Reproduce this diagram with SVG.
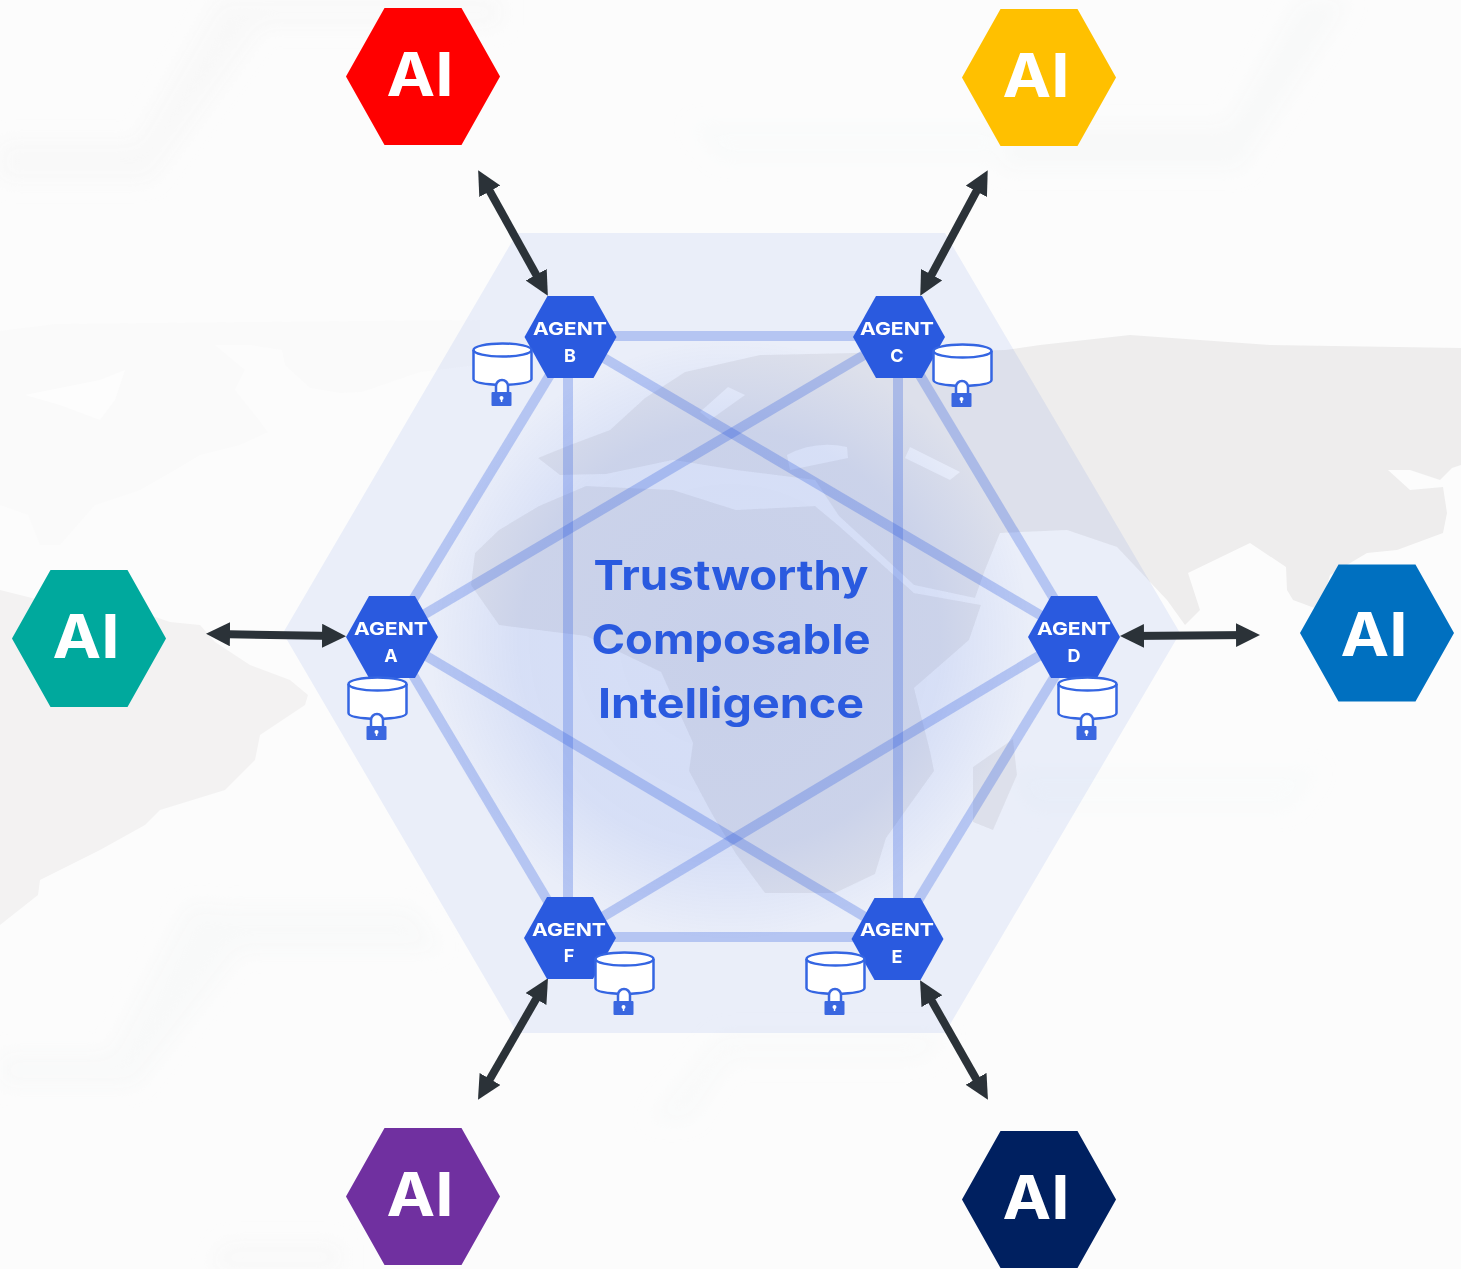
<svg xmlns="http://www.w3.org/2000/svg" width="1461" height="1269" viewBox="0 0 1461 1269">
<style>
.ai{font-family:Inter,"Liberation Sans",sans-serif;font-weight:700;font-size:60px;fill:#fff;text-anchor:middle}
.ag{font-family:Inter,"Liberation Sans",sans-serif;font-weight:700;font-size:18px;fill:#fff;text-anchor:middle}
.ti{font-family:Inter,"Liberation Sans",sans-serif;font-weight:700;font-size:41px;fill:#2a5adf;text-anchor:middle}
.agent{fill:#2a5adf}
.mesh line{stroke:#2a5adf;stroke-width:10;stroke-opacity:.28}
.link line{stroke:#2b3238;stroke-width:8;marker-start:url(#ah);marker-end:url(#ah)}
.cyl{fill:#fff;stroke:#3465e2;stroke-width:2.5}
.lk{fill:#3a67e0}
</style>
<defs>
<marker id="ah" markerUnits="userSpaceOnUse" markerWidth="30" markerHeight="30" refX="14" refY="12" orient="auto-start-reverse"><path d="M0,0L24,12L0,24Z" fill="#2b3238"/></marker>
<radialGradient id="glow" gradientUnits="userSpaceOnUse" cx="730" cy="640" r="300"><stop offset="0" stop-color="#2a5adf" stop-opacity=".12"/><stop offset=".7" stop-color="#2a5adf" stop-opacity=".1"/><stop offset="1" stop-color="#2a5adf" stop-opacity="0"/></radialGradient>
<filter id="bl" x="-10%" y="-10%" width="120%" height="120%"><feGaussianBlur stdDeviation="10"/></filter>
<polygon id="hx" points="-77,0 -38.500,-68.500 38.500,-68.500 77,0 38.500,68.500 -38.500,68.500"/>
<polygon id="ha" points="-46,0 -23,-41 23,-41 46,0 23,41 -23,41"/>
<g id="db">
<path class="cyl" d="M-29.500,-1V28Q-29.500,33 -.5,34Q28.500,33 28.500,28V-1"/>
<ellipse class="cyl" cx="-.5" cy="-1" rx="29" ry="6.500"/>
<path d="M-7,42V35a6,6 0 0 1 12,0V42" fill="#fff" stroke="#3a67e0" stroke-width="2.500"/>
<rect class="lk" x="-11.500" y="41" width="20" height="14" rx="1"/>
<circle cx="-1.500" cy="47" r="2" fill="#fff"/><rect x="-2.200" y="47" width="1.500" height="4" fill="#fff"/>
</g>
</defs>
<g id="background">
<rect width="1461" height="1269" fill="#fcfcfc"/>
<g filter="url(#bl)" fill="#f6f7f7">
<path d="M220,0H500V25H262L150,180H0V143H137Z" opacity=".7"/>
<path d="M1300,0H1350L1240,170H1000L1010,125H1228Z" opacity=".5"/>
<path d="M690,125H1000V160H720Z" opacity=".3"/>
<path d="M227,909H412L440,950H240L135,1085H0V1055H110L190,905Z" opacity=".65"/>
<path d="M720,1035H950L920,1060H730L690,1120H650Z" opacity=".4"/>
<path d="M225,1245H340V1269H210Z" opacity=".7"/>
<path d="M1200,770H1320L1290,810H1030L1010,770Z" opacity=".3"/>
</g>
<g id="map">
<path fill="#fafafa" d="M0,331L55,324L250,322L480,320V365L420,372L362,392L340,393L310,388L285,365L282,350L250,345L215,345L245,370L235,390L255,415L268,432L240,445L200,455L175,470L140,490L95,505L60,545L40,545L28,515L0,505Z"/>
<path fill="#fdfdfd" d="M25,395L100,380L125,370L115,400L100,420L60,405Z"/>
<path fill="#f3f2f2" d="M0,590L40,600L120,605L170,622L200,625L215,642L250,665L290,680L308,695L305,705L260,735L255,760L225,790L160,810L145,825L100,850L40,880L38,895L0,925Z"/>
<path fill="#eeeded" d="M538,458L570,445L610,430L645,398L685,372L760,355L900,352L1005,350L1040,345L1130,335L1270,345L1461,348V465L1452,468L1440,480L1410,470L1388,470L1410,490L1443,487L1447,513L1443,533L1397,550L1367,553L1330,575L1320,610L1293,600L1287,590L1286,567L1250,543L1188,573L1200,610L1185,625L1167,600L1117,547L1067,530L1000,533L985,570L975,598L914,585L839,516L815,480L736,470L673,460L606,474L560,475Z"/>
<path fill="#eeeded" d="M475,553L499,530L539,506L586,486L673,490L736,510L815,506L839,526L914,593L981,605L969,640L914,688L930,751L934,771L886,838L875,874L835,893L765,893L736,854L712,814L689,771L693,743L661,672L586,636L499,625L471,585Z"/>
<path fill="#eeeded" d="M973,767L1013,739L1017,775L993,830L973,822Z"/>
<path fill="#fcfcfc" d="M787,455Q815,440 847,447L848,458L790,470ZM910,447L960,472L950,480L905,458ZM728,387L745,395L710,420L700,412Z"/>
</g>
</g>
<polygon id="big-hexagon" points="283,633 517,233 945,233 1180,633 945,1033 517,1033" fill="#2a5adf" fill-opacity=".085"/>
<polygon id="glow-area" points="283,633 517,233 945,233 1180,633 945,1033 517,1033" fill="url(#glow)"/>
<g id="connectors">
<g class="mesh">
<line x1="570" y1="336" x2="898" y2="336"/>
<line x1="568" y1="337" x2="568" y2="938"/>
<line x1="898" y1="337" x2="898" y2="938"/>
<line x1="569" y1="937" x2="897" y2="937"/>
<line x1="391" y1="636" x2="570" y2="342"/>
<line x1="897" y1="337" x2="1077" y2="637"/>
<line x1="391" y1="638" x2="568" y2="935"/>
<line x1="897" y1="935" x2="1077" y2="640"/>
<line x1="391" y1="634" x2="898" y2="335"/>
<line x1="570" y1="338" x2="1074" y2="635"/>
<line x1="391" y1="635" x2="897" y2="936"/>
<line x1="569" y1="937" x2="1074" y2="635"/>
</g>
<g class="link">
<line x1="483" y1="179" x2="543" y2="287"/>
<line x1="983" y1="179" x2="925" y2="287"/>
<line x1="216" y1="634" x2="336" y2="636"/>
<line x1="1130" y1="636" x2="1250" y2="635"/>
<line x1="543" y1="987" x2="483" y2="1091"/>
<line x1="925" y1="989" x2="983" y2="1091"/>
</g>
</g>
<g id="ai-red"><use href="#hx" x="423" y="76.500" fill="#ff0000"/><text class="ai" x="420" y="96" textLength="67" lengthAdjust="spacingAndGlyphs">AI</text></g>
<g id="ai-yellow"><use href="#hx" x="1039" y="77.500" fill="#ffc000"/><text class="ai" x="1036" y="97" textLength="67" lengthAdjust="spacingAndGlyphs">AI</text></g>
<g id="ai-teal"><use href="#hx" x="89" y="638.500" fill="#00a99d"/><text class="ai" x="86" y="658" textLength="67" lengthAdjust="spacingAndGlyphs">AI</text></g>
<g id="ai-blue"><use href="#hx" x="1377" y="633" fill="#0070c0"/><text class="ai" x="1374" y="656" textLength="67" lengthAdjust="spacingAndGlyphs">AI</text></g>
<g id="ai-purple"><use href="#hx" x="423" y="1196.500" fill="#7030a0"/><text class="ai" x="420" y="1216" textLength="67" lengthAdjust="spacingAndGlyphs">AI</text></g>
<g id="ai-navy"><use href="#hx" x="1039" y="1199.500" fill="#002060"/><text class="ai" x="1036" y="1219" textLength="67" lengthAdjust="spacingAndGlyphs">AI</text></g>
<g id="agent-a"><use href="#ha" class="agent" x="392" y="637"/><use href="#db" x="378" y="685"/><text class="ag" x="391" y="635" textLength="74" lengthAdjust="spacingAndGlyphs">AGENT</text><text class="ag" x="391" y="662">A</text></g>
<g id="agent-b"><use href="#ha" class="agent" x="570.500" y="337"/><use href="#db" x="503" y="351"/><text class="ag" x="570" y="335" textLength="74" lengthAdjust="spacingAndGlyphs">AGENT</text><text class="ag" x="570" y="362">B</text></g>
<g id="agent-c"><use href="#ha" class="agent" x="899" y="337"/><use href="#db" x="963" y="352"/><text class="ag" x="897" y="335" textLength="74" lengthAdjust="spacingAndGlyphs">AGENT</text><text class="ag" x="897" y="362">C</text></g>
<g id="agent-d"><use href="#ha" class="agent" x="1074" y="637"/><use href="#db" x="1088" y="685"/><text class="ag" x="1074" y="635" textLength="74" lengthAdjust="spacingAndGlyphs">AGENT</text><text class="ag" x="1074" y="662">D</text></g>
<g id="agent-e"><use href="#ha" class="agent" x="897.500" y="939"/><use href="#db" x="836" y="960"/><text class="ag" x="897" y="936" textLength="74" lengthAdjust="spacingAndGlyphs">AGENT</text><text class="ag" x="897" y="963">E</text></g>
<g id="agent-f"><use href="#ha" class="agent" x="570" y="938"/><use href="#db" x="625" y="960"/><text class="ag" x="569" y="936" textLength="74" lengthAdjust="spacingAndGlyphs">AGENT</text><text class="ag" x="569" y="962">F</text></g>
<g id="title">
<text class="ti" x="731" y="590" textLength="275" lengthAdjust="spacingAndGlyphs">Trustworthy</text>
<text class="ti" x="731" y="654" textLength="279" lengthAdjust="spacingAndGlyphs">Composable</text>
<text class="ti" x="731" y="718" textLength="266" lengthAdjust="spacingAndGlyphs">Intelligence</text>
</g>
</svg>
